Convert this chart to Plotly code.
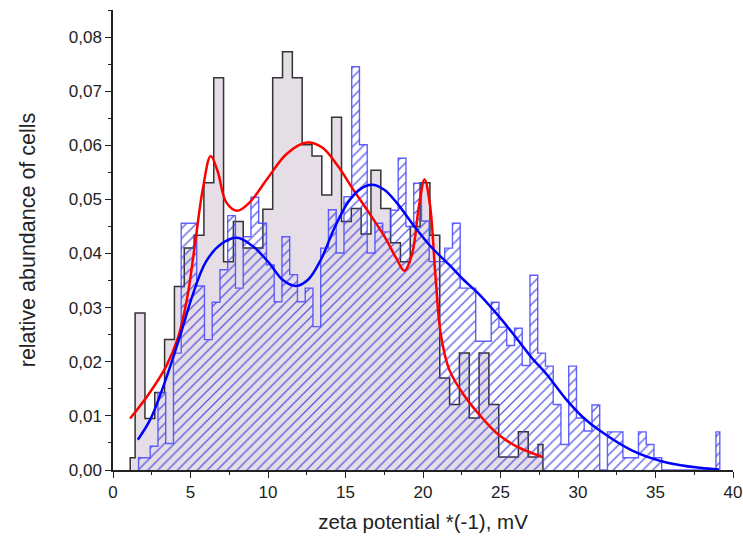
import plotly.graph_objects as go

# ---- data ----
gray_x0 = 1.11      # centre of first gray step (mV)
gray_w = 0.634      # gray step width (mV)
gray_vals = [0.00225, 0.029, 0.0095, 0.0143, 0.0241, 0.0339, 0.041, 0.0434, 0.0531, 0.0725,
             0.0385, 0.0459, 0.041, 0.041, 0.0482, 0.0725, 0.0773, 0.0725, 0.0601, 0.058,
             0.0508, 0.0652, 0.0459, 0.0483, 0.0436, 0.0554, 0.0483, 0.042, 0.0385, 0.045,
             0.0531, 0.0434, 0.017, 0.0121, 0.0216, 0.0096, 0.0216, 0.0121, 0.0024, 0.0024,
             0.00705, 0.0024, 0.0047]

blue_x0 = 1.65
blue_w = 0.5
blue_vals = [0.00225, 0.00225, 0.0044, 0.0143, 0.0049, 0.0216, 0.0456, 0.0456, 0.034, 0.0241,
             0.031, 0.037, 0.047, 0.0336, 0.0431, 0.0504, 0.0456, 0.0379, 0.0311, 0.0431,
             0.0361, 0.0311, 0.0336, 0.0265, 0.041, 0.0481, 0.0401, 0.0505, 0.0745, 0.0601,
             0.0401, 0.0456, 0.044, 0.048, 0.0576, 0.045, 0.053, 0.046, 0.0385, 0.0385,
             0.041, 0.0456, 0.0336, 0.0336, 0.0238, 0.0238, 0.031, 0.0264, 0.023, 0.0262,
             0.0193, 0.036, 0.0216, 0.0192, 0.0121, 0.0047, 0.0192, 0.0096, 0.0072, 0.012,
             0.0, 0.00705, 0.00705, 0.00225, 0.00225, 0.00705, 0.0047, 0.00225, 0.0, 0.0,
             0.0, 0.0, 0.0, 0.0, 0.0, 0.00705]

red_x = [1.1, 2.3, 3.4, 4.2, 4.8, 5.3, 5.8, 6.3, 6.75, 7.3, 8.0, 8.8, 10.0, 11.2, 12.5,
         13.5, 14.5, 15.5, 16.5, 17.5, 18.3, 18.8, 19.3, 19.75, 20.1, 20.45, 20.8, 21.15,
         21.7, 22.6, 23.7, 24.8, 26.0, 27.7]
red_y = [0.0095, 0.014, 0.019, 0.0245, 0.032, 0.042, 0.052, 0.058, 0.0552, 0.0495,
         0.0479, 0.0494, 0.054, 0.0584, 0.0605, 0.0596, 0.0562, 0.0518, 0.0476, 0.0432,
         0.039, 0.0368, 0.040, 0.049, 0.0537, 0.049, 0.036, 0.025, 0.0185, 0.014, 0.010,
         0.0067, 0.0044, 0.0024]

bfit_x = [1.6, 2.4, 3.4, 4.3, 5.1, 6.0, 7.0, 8.0, 9.0, 10.0, 11.0, 11.8, 12.6, 13.4, 14.3,
          15.2, 16.0, 16.7, 17.5, 18.3, 19.5, 20.5, 21.7, 22.6, 23.5, 24.8, 26.0, 27.0,
          28.0, 29.25, 30.3, 31.4, 33.5, 35.7, 37.85, 39.1]
bfit_y = [0.0056, 0.0093, 0.0167, 0.0245, 0.032, 0.0385, 0.0418, 0.0429, 0.0414, 0.0385,
          0.035, 0.034, 0.0352, 0.0388, 0.0448, 0.0496, 0.052, 0.0527, 0.0518, 0.0494,
          0.0448, 0.0413, 0.0379, 0.0352, 0.0328, 0.0287, 0.0245, 0.0208, 0.0176, 0.013,
          0.0098, 0.0073, 0.0036, 0.0014, 0.0004, 0.0001]

x_ticks = [0, 5, 10, 15, 20, 25, 30, 35, 40]
x_title = "zeta potential *(-1), mV"
y_title = "relative abundance of cells"


def step_xy(x0, w, vals):
    xs = [x0 + w * i for i in range(len(vals))]
    return [xs[0]] + xs + [xs[-1]], [0.0] + list(vals) + [0.0]


gx, gy = step_xy(gray_x0, gray_w, gray_vals)
bx, by = step_xy(blue_x0, blue_w, blue_vals)

fig = go.Figure()
fig.add_trace(go.Scatter(
    x=gx, y=gy, mode="lines", line=dict(shape="hvh", color="#333333", width=1.5),
    fill="tozeroy", fillcolor="#e6dee6", hoverinfo="skip", showlegend=False))
fig.add_trace(go.Scatter(
    x=bx, y=by, mode="lines", line=dict(shape="hvh", color="rgba(70,70,255,0.85)", width=1.4),
    fill="tozeroy", fillcolor="rgba(0,0,0,0)",
    fillpattern=dict(shape="/", fgcolor="rgba(70,70,225,0.9)", bgcolor="rgba(0,0,0,0)",
                     size=7, solidity=0.18, fillmode="replace"),
    hoverinfo="skip", showlegend=False))
fig.add_trace(go.Scatter(
    x=red_x, y=red_y, mode="lines", line=dict(shape="spline", color="#ff0000", width=2.5),
    showlegend=False))
fig.add_trace(go.Scatter(
    x=bfit_x, y=bfit_y, mode="lines", line=dict(shape="spline", color="#0000ff", width=2.5),
    showlegend=False))

font_family = "Arial, 'Liberation Sans', sans-serif"
fig.update_layout(
    width=743, height=541,
    margin=dict(l=113, r=10, t=10, b=71, autoexpand=False),
    paper_bgcolor="white", plot_bgcolor="white",
    separators=",.",
    font=dict(family=font_family, size=17, color="#222222"),
    xaxis=dict(range=[0, 40], tickvals=x_ticks, ticks="outside", ticklen=6, tickwidth=1.3,
               tickcolor="#222", showline=True, linecolor="#222", linewidth=1.5,
               showgrid=False, zeroline=False, mirror=False,
               minor=dict(dtick=2.5, tick0=0, ticks="outside", ticklen=3.5, tickcolor="#222",
                          tickwidth=1.2, showgrid=False),
               tickfont=dict(size=17),
               title=dict(text=x_title, font=dict(size=20.5), standoff=13)),
    yaxis=dict(range=[0, 0.085], tick0=0, dtick=0.01, tickformat=".2f", ticks="outside",
               ticklen=6, tickwidth=1.3, tickcolor="#222", showline=True, linecolor="#222",
               linewidth=1.5, showgrid=False, zeroline=False,
               minor=dict(dtick=0.005, tick0=0, ticks="outside", ticklen=3.5, tickcolor="#222",
                          tickwidth=1.2, showgrid=False),
               tickfont=dict(size=17),
               title=dict(text=y_title, font=dict(size=21.5), standoff=27)),
)

fig.write_html("out.html")
